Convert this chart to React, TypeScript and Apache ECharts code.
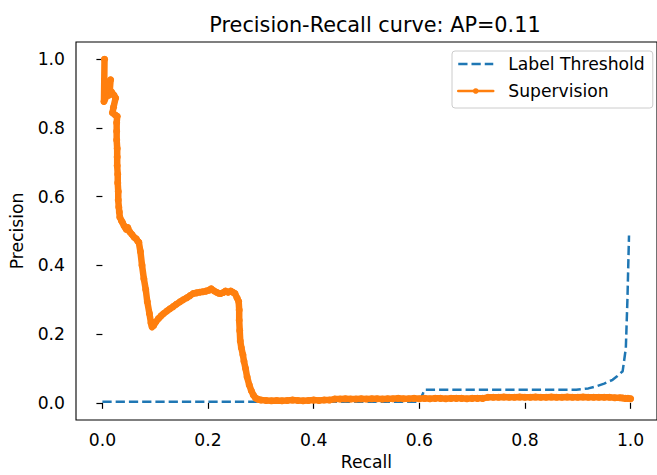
import React, { useEffect, useRef } from "react";
import * as echarts from "echarts";

const TITLE = "Precision-Recall curve: AP=0.11";
const X_NAME = "Recall";
const Y_NAME = "Precision";
const SERIES_NAMES = ["Label Threshold", "Supervision"];
const X_TICKS = [0, 0.2, 0.4, 0.6, 0.8, 1.0];
const Y_TICKS = [0, 0.2, 0.4, 0.6, 0.8, 1.0];

// Label Threshold (recall, precision)
const thresholdRecall = [0, 0.3, 0.6, 0.61, 0.75, 0.897, 0.92, 0.935, 0.95, 0.966, 0.975, 0.985, 0.991, 0.994, 0.997];
const thresholdPrecision = [0.003, 0.003, 0.003, 0.038, 0.038, 0.038, 0.042, 0.048, 0.056, 0.067, 0.078, 0.092, 0.159, 0.3, 0.487];

// Supervision (recall, precision)
const supRecall = [
  0.004, 0.003, 0.005, 0.008, 0.011, 0.0155, 0.014, 0.012, 0.017, 0.022, 0.025, 0.021, 0.019, 0.024, 0.028,
  0.027, 0.027, 0.027, 0.028, 0.028, 0.028, 0.029, 0.029, 0.03, 0.03, 0.031, 0.032, 0.033, 0.036, 0.038,
  0.041, 0.045, 0.048, 0.052, 0.056, 0.06, 0.064, 0.067, 0.069, 0.072, 0.075, 0.0785, 0.082, 0.085, 0.089,
  0.092, 0.094, 0.097, 0.101, 0.106, 0.111, 0.116, 0.122, 0.128, 0.134, 0.14, 0.147, 0.153, 0.16, 0.166,
  0.172, 0.178, 0.184, 0.19, 0.196, 0.202, 0.206, 0.211, 0.216, 0.22, 0.224, 0.229, 0.233, 0.238, 0.243,
  0.247, 0.251, 0.255, 0.258, 0.259, 0.259, 0.26, 0.261, 0.263, 0.266, 0.268, 0.271, 0.274, 0.278, 0.282,
  0.286, 0.29, 0.295, 0.3, 0.31, 0.32, 0.33, 0.34, 0.35, 0.36, 0.37, 0.38, 0.39, 0.4, 0.41, 0.42, 0.43,
  0.44, 0.45, 0.46, 0.47, 0.48, 0.49, 0.5, 0.51, 0.52, 0.53, 0.54, 0.55, 0.56, 0.57, 0.58, 0.59, 0.6,
  0.61, 0.62, 0.63, 0.64, 0.65, 0.66, 0.67, 0.68, 0.69, 0.7, 0.71, 0.72, 0.73, 0.74, 0.75, 0.76, 0.77,
  0.78, 0.79, 0.8, 0.81, 0.82, 0.83, 0.84, 0.85, 0.86, 0.87, 0.88, 0.89, 0.9, 0.91, 0.92, 0.93, 0.94,
  0.95, 0.96, 0.97, 0.98, 0.985, 0.99, 0.995, 1.0,
];
const supPrecision = [
  1.0, 0.877, 0.885, 0.905, 0.925, 0.94, 0.91, 0.895, 0.905, 0.895, 0.887, 0.86, 0.844, 0.838, 0.834,
  0.815, 0.79, 0.765, 0.74, 0.715, 0.69, 0.665, 0.64, 0.615, 0.59, 0.57, 0.555, 0.54, 0.53, 0.525,
  0.515, 0.505, 0.51, 0.497, 0.49, 0.482, 0.477, 0.47, 0.467, 0.44, 0.4, 0.361, 0.33, 0.294, 0.26,
  0.232, 0.221, 0.225, 0.235, 0.245, 0.253, 0.26, 0.267, 0.274, 0.28, 0.287, 0.294, 0.3, 0.306, 0.312,
  0.318, 0.32, 0.322, 0.323, 0.325, 0.328, 0.332, 0.326, 0.322, 0.319, 0.318, 0.321, 0.325, 0.322, 0.325,
  0.322, 0.318, 0.305, 0.295, 0.27, 0.24, 0.21, 0.18, 0.16, 0.14, 0.121, 0.1, 0.075, 0.052, 0.035,
  0.022, 0.014, 0.01, 0.008, 0.007, 0.006, 0.007, 0.006, 0.007, 0.008, 0.007, 0.006, 0.007, 0.008, 0.007, 0.008, 0.008,
  0.011, 0.011, 0.012, 0.011, 0.011, 0.012, 0.011, 0.012, 0.012, 0.011, 0.012, 0.012, 0.013, 0.012, 0.012, 0.013, 0.012,
  0.013, 0.012, 0.013, 0.013, 0.012, 0.013, 0.013, 0.013, 0.012, 0.013, 0.013, 0.013, 0.016, 0.016, 0.016, 0.017, 0.016,
  0.016, 0.017, 0.016, 0.016, 0.017, 0.016, 0.016, 0.017, 0.016, 0.016, 0.017, 0.016, 0.016, 0.017, 0.016, 0.016, 0.016,
  0.016, 0.016, 0.015, 0.015, 0.014, 0.013, 0.013, 0.012,
];

const FONT = "DejaVu Sans";
const BLUE = "#1f77b4";
const ORANGE = "#ff7f0e";
const FS = 17.2;

export default function App() {
  const ref = useRef<HTMLDivElement>(null);
  useEffect(() => {
    if (!ref.current) return;
    const chart = echarts.init(ref.current, null, { renderer: "svg" });
    const thresholdData = thresholdRecall.map((r, i) => [r, thresholdPrecision[i]]);
    const supData = supRecall.map((r, i) => [r, supPrecision[i]]);
    const tickStyle = { show: true, length: 6, inside: false, lineStyle: { color: "#000", width: 1.2 } };
    chart.setOption({
      animation: false,
      backgroundColor: "#fff",
      title: {
        text: TITLE,
        left: 370,
        textAlign: "center",
        top: 9,
        textStyle: { fontFamily: FONT, fontSize: 20.8, fontWeight: "normal", color: "#000" },
      },
      legend: {
        data: [
          { name: SERIES_NAMES[0], itemStyle: { opacity: 0 }, lineStyle: { width: 2.5, type: [9.25, 4], color: BLUE } },
          { name: SERIES_NAMES[1], lineStyle: { width: 2.5, color: ORANGE } },
        ],
        orient: "vertical",
        left: 452,
        top: 51,
        padding: [4, 8, 8, 5],
        itemGap: 9,
        itemWidth: 35,
        itemHeight: 7,
        borderColor: "#cccccc",
        borderWidth: 1,
        borderRadius: 3,
        backgroundColor: "rgba(255,255,255,0.8)",
        textStyle: { fontFamily: FONT, fontSize: FS, color: "#000", lineHeight: 18, padding: [0, 0, 0, 10] },
      },
      grid: {
        left: 76,
        top: 42,
        width: 589,
        height: 380,
        show: true,
        borderColor: "#000",
        borderWidth: 1.1,
        containLabel: false,
      },
      xAxis: {
        type: "value",
        min: -0.05,
        max: 1.05,
        name: X_NAME,
        nameLocation: "middle",
        nameGap: 33,
        nameTextStyle: { fontFamily: FONT, fontSize: FS, color: "#000" },
        axisLine: { show: false },
        splitLine: { show: false },
        axisTick: { ...tickStyle, customValues: X_TICKS },
        axisLabel: {
          customValues: X_TICKS,
          formatter: (v: number) => v.toFixed(1),
          margin: 11,
          fontFamily: FONT,
          fontSize: FS,
          color: "#000",
        },
      },
      yAxis: {
        type: "value",
        min: -0.05,
        max: 1.05,
        name: Y_NAME,
        nameLocation: "middle",
        nameGap: 51,
        nameTextStyle: { fontFamily: FONT, fontSize: FS, color: "#000" },
        axisLine: { show: false },
        splitLine: { show: false },
        axisTick: { ...tickStyle, customValues: Y_TICKS },
        axisLabel: {
          customValues: Y_TICKS,
          formatter: (v: number) => v.toFixed(1),
          margin: 11,
          fontFamily: FONT,
          fontSize: FS,
          color: "#000",
        },
      },
      series: [
        {
          name: SERIES_NAMES[0],
          type: "line",
          data: thresholdData,
          symbol: "none",
          lineStyle: { color: BLUE, width: 2.5, type: [9.25, 4] },
          itemStyle: { color: BLUE },
          z: 2,
        },
        {
          name: SERIES_NAMES[1],
          type: "line",
          data: supData,
          symbol: "circle",
          symbolSize: 7,
          showAllSymbol: true,
          lineStyle: { color: ORANGE, width: 6.5, join: "round", cap: "round" },
          itemStyle: { color: ORANGE },
          z: 3,
        },
      ],
    });
    return () => chart.dispose();
  }, []);
  return <div ref={ref} style={{ position: "fixed", left: 0, top: 0, width: 657, height: 475 }} />;
}
